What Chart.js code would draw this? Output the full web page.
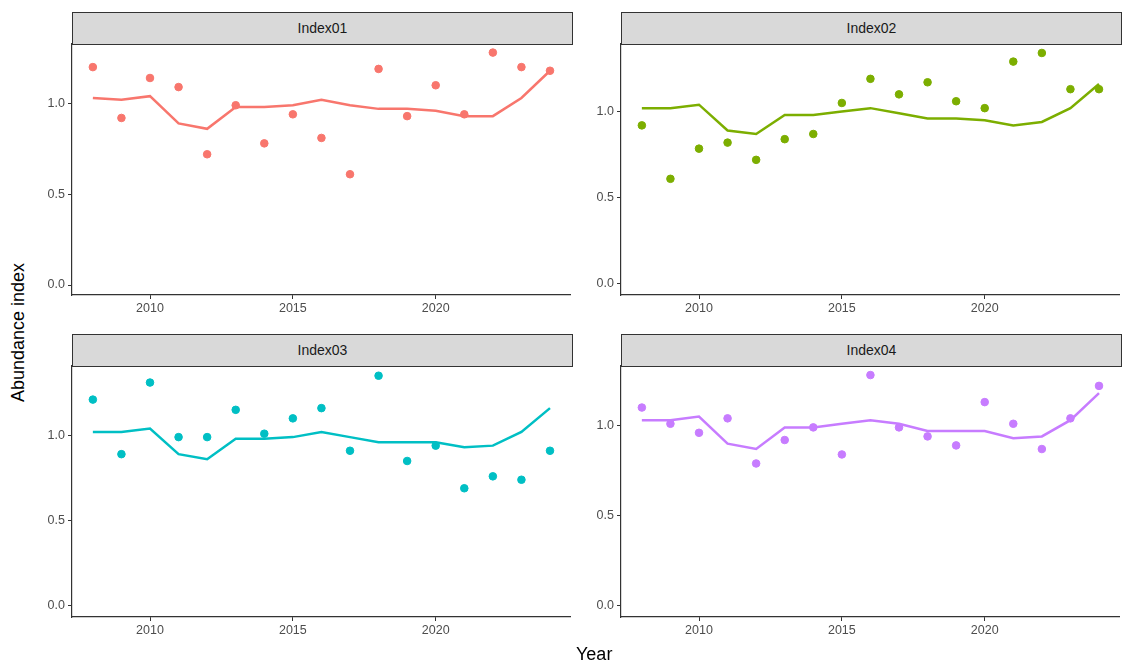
<!DOCTYPE html>
<html>
<head>
<meta charset="utf-8">
<script src="https://cdn.jsdelivr.net/npm/chart.js"></script>
<style>
  body { margin: 0; width: 1123px; height: 667px; background: #fff; position: relative; font-family: "Liberation Sans", Arial, sans-serif; overflow: hidden; }
  .strip { position: absolute; background: #d9d9d9; border: 1px solid #333; box-sizing: border-box; text-align: center; font-size: 14px; color: #1a1a1a; line-height: 31px; }
  .cv { position: absolute; }
  .lab { position: absolute; font-size: 18px; color: #000; white-space: nowrap; }
</style>
</head>
<body>
<div class="strip" style="left:72px;top:12px;width:501px;height:33px">Index01</div>
<div class="strip" style="left:621px;top:12px;width:501px;height:33px">Index02</div>
<div class="strip" style="left:72px;top:334px;width:501px;height:33px">Index03</div>
<div class="strip" style="left:621px;top:334px;width:501px;height:33px">Index04</div>
<div class="cv" style="left:30px;top:33px;width:545px;height:294px"><canvas id="c1"></canvas></div>
<div class="cv" style="left:579px;top:33px;width:545px;height:294px"><canvas id="c2"></canvas></div>
<div class="cv" style="left:30px;top:355px;width:545px;height:294px"><canvas id="c3"></canvas></div>
<div class="cv" style="left:579px;top:355px;width:545px;height:294px"><canvas id="c4"></canvas></div>
<div class="lab" style="left:-52px;top:322px;transform:rotate(-90deg);width:140px;text-align:center">Abundance index</div>
<div class="lab" style="left:576px;top:644px">Year</div>
<script>
const years = [2008,2009,2010,2011,2012,2013,2014,2015,2016,2017,2018,2019,2020,2021,2022,2023,2024];
const xTicks = [2010, 2015, 2020];
const yTicks = [0, 0.5, 1.0];

const obs01 = [1.20,0.92,1.14,1.09,0.72,0.99,0.78,0.94,0.81,0.61,1.19,0.93,1.10,0.94,1.28,1.20,1.18];
const fit01 = [1.03,1.02,1.04,0.89,0.86,0.98,0.98,0.99,1.02,0.99,0.97,0.97,0.96,0.93,0.93,1.03,1.18];
const obs02 = [0.92,0.61,0.785,0.82,0.72,0.84,0.87,1.05,1.19,1.10,1.17,1.06,1.02,1.29,1.34,1.13,1.13];
const fit02 = [1.02,1.02,1.04,0.89,0.87,0.98,0.98,1.00,1.02,0.99,0.96,0.96,0.95,0.92,0.94,1.02,1.16];
const obs03 = [1.21,0.89,1.31,0.99,0.99,1.15,1.01,1.10,1.16,0.91,1.35,0.85,0.94,0.69,0.76,0.74,0.91];
const fit03 = [1.02,1.02,1.04,0.89,0.86,0.98,0.98,0.99,1.02,0.99,0.96,0.96,0.96,0.93,0.94,1.02,1.16];
const obs04 = [1.10,1.01,0.96,1.04,0.79,0.92,0.99,0.84,1.28,0.99,0.94,0.89,1.13,1.01,0.87,1.04,1.22];
const fit04 = [1.03,1.03,1.05,0.90,0.87,0.99,0.99,1.01,1.03,1.01,0.97,0.97,0.97,0.93,0.94,1.03,1.18];

function pts(vals) { return years.map((y, i) => ({x: y, y: vals[i]})); }

function panel(id, obs, fit, color, ymin, ymax) {
  new Chart(document.getElementById(id), {
    type: 'scatter',
    data: {
      datasets: [
        { type: 'line', data: pts(fit), borderColor: color, borderWidth: 2.5, pointRadius: 0, fill: false },
        { data: pts(obs), backgroundColor: color, borderColor: color, pointRadius: 3.8 }
      ]
    },
    options: {
      responsive: true, maintainAspectRatio: false, animation: false,
      layout: { padding: 0 },
      plugins: { legend: { display: false }, tooltip: { enabled: false } },
      scales: {
        x: {
          type: 'linear', min: 2007.27, max: 2024.7,
          afterBuildTicks: s => { s.ticks = xTicks.map(v => ({value: v})); },
          afterFit: s => { s.height = 32; },
          grid: { drawOnChartArea: false, tickLength: 4, color: '#333' },
          border: { color: '#333', width: 1.2 },
          ticks: { color: '#4d4d4d', font: { size: 12.5, family: 'Liberation Sans' }, padding: 2, callback: v => String(v) }
        },
        y: {
          min: ymin, max: ymax,
          afterBuildTicks: s => { s.ticks = yTicks.map(v => ({value: v})); },
          afterFit: s => { s.width = 42; },
          grid: { drawOnChartArea: false, tickLength: 4, color: '#333' },
          border: { color: '#333', width: 1.2 },
          ticks: { color: '#4d4d4d', font: { size: 12.5, family: 'Liberation Sans' }, padding: 3, callback: v => v.toFixed(1) }
        }
      }
    }
  });
}

panel('c1', obs01, fit01, '#F8766D', -0.055, 1.33);
panel('c2', obs02, fit02, '#7CAE00', -0.064, 1.395);
panel('c3', obs03, fit03, '#00BFC4', -0.065, 1.41);
panel('c4', obs04, fit04, '#C77CFF', -0.061, 1.333);
</script>
</body>
</html>
